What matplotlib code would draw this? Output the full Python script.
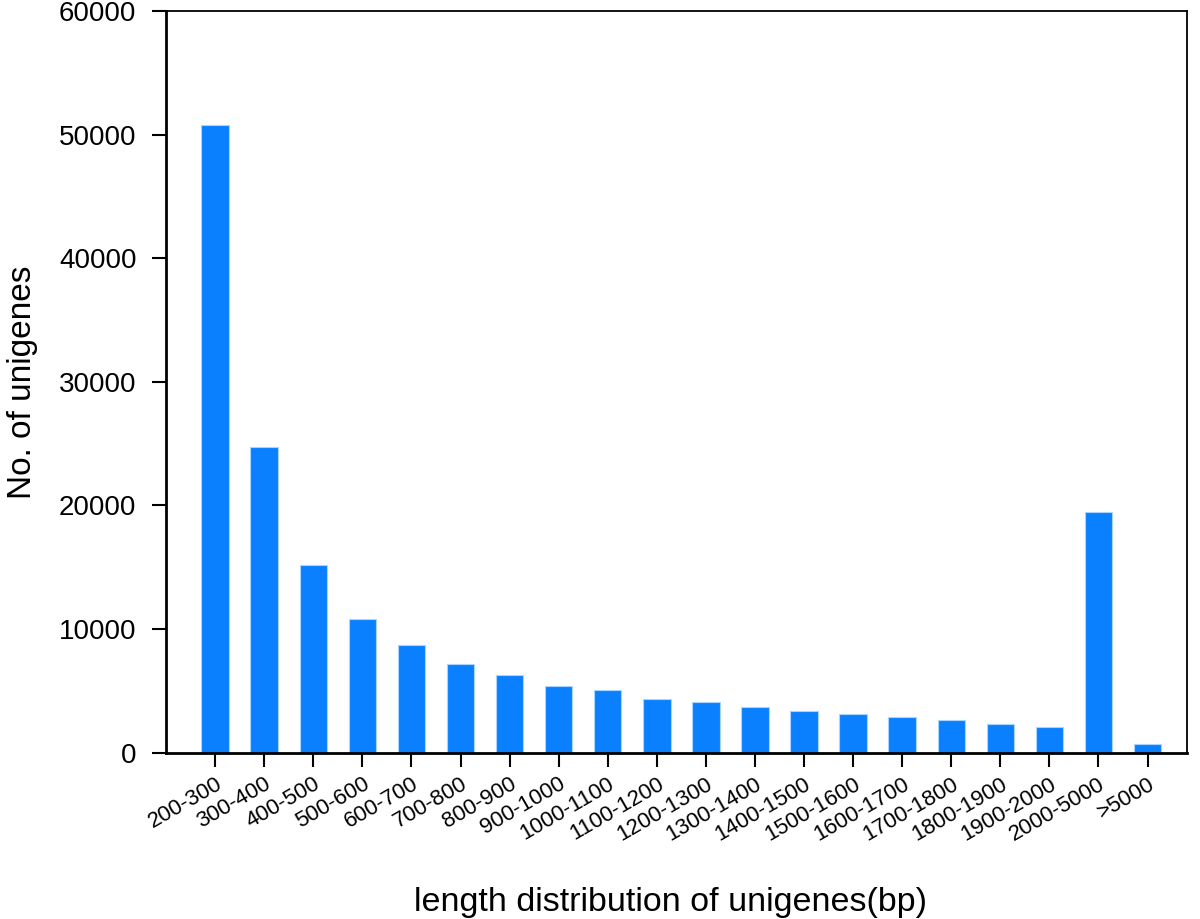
import matplotlib
matplotlib.use("Agg")
import matplotlib.pyplot as plt

categories = ["200-300", "300-400", "400-500", "500-600", "600-700", "700-800",
              "800-900", "900-1000", "1000-1100", "1100-1200", "1200-1300",
              "1300-1400", "1400-1500", "1500-1600", "1600-1700", "1700-1800",
              "1800-1900", "1900-2000", "2000-5000", ">5000"]
counts = [50800, 24700, 15200, 10800, 8700, 7200, 6300, 5400, 5050, 4350,
          4060, 3680, 3380, 3110, 2870, 2630, 2330, 2090, 19450, 690]
yticks = [0, 10000, 20000, 30000, 40000, 50000, 60000]

plt.rcParams['font.family'] = ['Liberation Sans', 'DejaVu Sans']

fig = plt.figure(figsize=(12, 9.19), dpi=100)
ax = fig.add_axes([0.138, 0.181, 0.851, 0.807])

x = list(range(len(categories)))
ax.bar(x, counts, width=0.56, color='#0A80FF', edgecolor='#A8D4FF', linewidth=0.8)

ax.set_xlim(-1.01, len(categories) - 0.2)
ax.set_ylim(0, 60000)
ax.set_yticks(yticks)
ax.set_yticklabels([str(v) for v in yticks], fontsize=20)
ax.set_xticks(x)
ax.set_xticklabels(categories, fontsize=16, rotation=30, ha='right',
                   rotation_mode='anchor')
ax.tick_params(axis='both', direction='out', length=10, width=1.5, color='black')
ax.tick_params(axis='x', pad=5)
ax.tick_params(axis='y', pad=11)
for s in ['left', 'bottom']:
    ax.spines[s].set_linewidth(2)
for s in ['top', 'right']:
    ax.spines[s].set_linewidth(1.3)

ax.set_ylabel("No. of unigenes", fontsize=24)
ax.yaxis.set_label_coords(-0.125, 0.5)
fig.text(670 / 1200, 1 - 902 / 919, "length distribution of unigenes(bp)",
         fontsize=24.5, ha='center', va='center')

fig.savefig("out.png", dpi=100)
